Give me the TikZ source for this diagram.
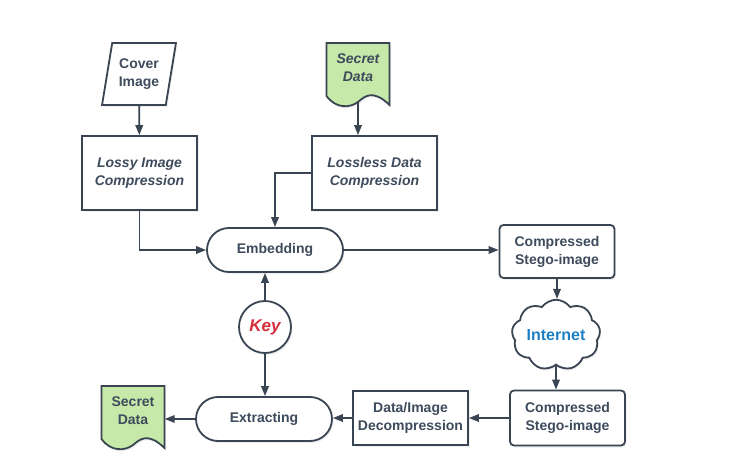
\documentclass[tikz,border=0pt]{standalone}
\usepackage{fontspec}
\setmainfont{Liberation Sans}
\usetikzlibrary{arrows.meta,shapes.geometric,shapes.symbols,shadows,backgrounds}
\definecolor{ln}{HTML}{3A4553}
\definecolor{tx}{HTML}{3D4B5C}
\definecolor{gr}{HTML}{C6E9A9}
\definecolor{kr}{HTML}{D62D3B}
\definecolor{ib}{HTML}{1D80C4}
\tikzset{sh/.style = {drop shadow={shadow xshift=1.5pt, shadow yshift=-2pt, opacity=.12}},
           bx/.style = {rectangle, draw=ln, line width=1.8pt, fill=white, sh, align=center,
                        minimum width=115pt, minimum height=74pt, inner sep=2pt},
           rb/.style = {bx, rounded corners=4pt, minimum height=54pt},
           te/.style = {rectangle, rounded corners=22pt, draw=ln, line width=1.8pt, fill=white, sh,
                        minimum width=136pt, minimum height=44pt},
           pa/.style = {trapezium, trapezium left angle=76, trapezium right angle=104, trapezium stretches,
                        draw=ln, line width=1.8pt, fill=white, sh, align=center,
                        minimum width=74pt, minimum height=62pt, inner sep=0pt},
           doc/.style = {rectangle, align=center, minimum width=63pt, minimum height=66pt, inner sep=0pt},
           ar/.style = {->, draw=ln, line width=1.8pt}}
\newcommand{\docshape}[1]{\draw[draw=ln, line width=1.8pt, fill=gr, sh, shift={(#1.center)}]
  (-31.5,25) -- (-31.5,-28) .. controls (-22,-41) and (-8,-40) .. (0,-34)
  .. controls (7,-28) and (15,-21) .. (31.5,-37) -- (31.5,25) -- cycle;}

\begin{document}
\begin{tikzpicture}[x=1pt, y=1pt, >={Triangle[length=10pt, width=7.5pt]},
    font=\fontsize{14}{18}\selectfont\bfseries, every node/.append style={text=tx}]
    \useasboundingbox (0,0) rectangle (730,472);
    \node[pa] (cover) at (139,398) {Cover\\Image};
    \node[doc] (secret1) at (358,404) {\itshape Secret\\\itshape Data};
    \node[bx] (lossy) at (139.5,299) {\itshape Lossy Image\\\itshape Compression};
    \node[bx, minimum width=125pt] (lossless) at (374.5,299) {\itshape Lossless Data\\\itshape Compression};
    \node[te] (embed) at (275,222) {Embedding};
    \node[rb, minimum height=53pt] (comp1) at (557,220.5) {Compressed\\Stego-image};
    \node[cloud, cloud puffs=9, cloud puff arc=110, aspect=1.4, draw=ln, line width=1.8pt, fill=white, sh,
          minimum width=83pt, minimum height=60pt, inner sep=0pt,
          font=\fontsize{16}{18}\selectfont\bfseries, text=ib] (cloud) at (556,137) {Internet};
    \node[circle, draw=ln, line width=1.8pt, fill=white, sh, minimum size=52pt, inner sep=0pt,
          font=\fontsize{17}{18}\selectfont\bfseries\itshape, text=kr] (key) at (265,145) {Key};
    \node[te] (extract) at (264,53) {Extracting};
    \node[bx, minimum height=54pt] (decomp) at (410.5,54) {Data/Image\\Decompression};
    \node[rb, minimum height=55pt] (comp2) at (567.5,54) {Compressed\\Stego-image};
    \node[doc] (secret2) at (133,61) {Secret\\Data};
    \begin{scope}[on background layer]
      \fill[white] (0,0) rectangle (730,472);
      \docshape{secret1}
      \docshape{secret2}
    \end{scope}
    % embedding side
    \draw[ar] (cover) -- (lossy);
    \draw[ar] (secret1.south) -- (secret1.south |- lossless.north);
    \draw[ar] (lossy.south) |- (embed.west);
    \draw[ar] (lossless.west) -| (embed.north);
    \draw[ar] (embed.east) -- (embed.east -| comp1.west);
    \draw[ar] (comp1.south) -- (comp1.south |- cloud.north);
    \draw[ar] (key.north) -- (key.north |- embed.south);
    % extracting side
    \draw[ar] (cloud.south) -- (cloud.south |- comp2.north);
    \draw[ar] (comp2.west) -- (decomp.east);
    \draw[ar] (decomp.west) -- (decomp.west -| extract.east);
    \draw[ar] (key.south) -- (key.south |- extract.north);
    \draw[ar] (extract.west) -- (extract.west -| secret2.east);
\end{tikzpicture}
\end{document}
